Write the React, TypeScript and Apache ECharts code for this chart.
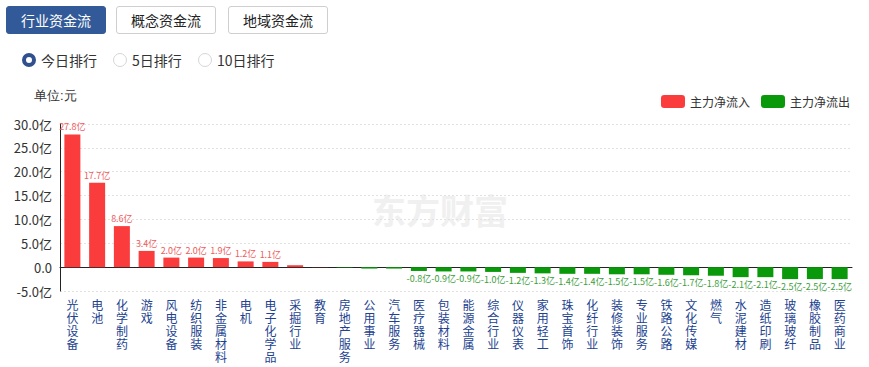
import React, { useEffect, useRef } from "react";
import * as echarts from "echarts";

const categories = [
  "光伏设备", "电池", "化学制药", "游戏", "风电设备", "纺织服装", "非金属材料", "电机",
  "电子化学品", "采掘行业", "教育", "房地产服务", "公用事业", "汽车服务", "医疗器械", "包装材料",
  "能源金属", "综合行业", "仪器仪表", "家用轻工", "珠宝首饰", "化纤行业", "装修装饰", "专业服务",
  "铁路公路", "文化传媒", "燃气", "水泥建材", "造纸印刷", "玻璃玻纤", "橡胶制品", "医药商业",
];
const values = [
  27.8, 17.7, 8.6, 3.4, 2.0, 2.0, 1.9, 1.2,
  1.1, 0.4, 0.03, -0.1, -0.3, -0.3, -0.8, -0.9,
  -0.9, -1.0, -1.2, -1.3, -1.4, -1.4, -1.5, -1.5,
  -1.6, -1.7, -1.8, -2.1, -2.1, -2.5, -2.5, -2.5,
];
const yTicks = { min: -5, max: 30, interval: 5 };
const legendNames = ["主力净流入", "主力净流出"];
const tabs = ["行业资金流", "概念资金流", "地域资金流"];
const radios = ["今日排行", "5日排行", "10日排行"];

const RED = "#fa3c3c";
const GREEN = "#0a990a";
const FONT = "'Noto Sans CJK SC', 'Noto Sans', sans-serif";

function Chart() {
  const ref = useRef<HTMLDivElement>(null);
  useEffect(() => {
    if (!ref.current) return;
    const chart = echarts.init(ref.current, null, { renderer: "svg" });
    const labelFmt = (p: any) => {
      const v = p.value;
      if (v == null || Math.abs(v) < 0.5) return "";
      return v.toFixed(1) + "亿";
    };
    chart.setOption({
      animation: false,
      textStyle: { fontFamily: FONT },
      legend: {
        right: 14,
        top: 90,
        itemWidth: 24,
        itemHeight: 13,
        itemGap: 11,
        icon: "roundRect",
        textStyle: { fontSize: 12, color: "#333", fontFamily: FONT },
        data: legendNames,
      },
      graphic: [
        {
          type: "text",
          left: 34,
          top: 89,
          style: { text: "单位:元", fontSize: 13, fill: "#333", font: `13px ${FONT}` },
        },
        {
          type: "text",
          left: 372,
          top: 192,
          z: -1,
          style: { text: "东方财富", fill: "#f0f0f0", font: `bold 34px ${FONT}` },
        },
      ],
      grid: { left: 60, right: 17, top: 124, bottom: 76, outerBoundsMode: "none", containLabel: false },
      xAxis: {
        type: "category",
        data: categories,
        axisLine: { onZero: true, lineStyle: { color: "#222", width: 1 } },
        axisTick: { show: false },
        axisLabel: {
          interval: 0,
          margin: 7,
          fontSize: 12,
          lineHeight: 13,
          color: "#22428f",
          fontFamily: FONT,
          formatter: (v: string) => v.split("").join("\n"),
        },
      },
      yAxis: {
        type: "value",
        min: yTicks.min,
        max: yTicks.max,
        interval: yTicks.interval,
        axisLine: { show: true, lineStyle: { color: "#222" } },
        axisTick: { show: false },
        splitLine: { lineStyle: { color: "#e2e2e2", type: [2, 2] } },
        axisLabel: {
          fontSize: 13,
          color: "#333",
          margin: 8,
          fontFamily: FONT,
          formatter: (v: number) => (v === 0 ? "0.0" : v.toFixed(1) + "亿"),
        },
      },
      series: [
        {
          name: legendNames[0],
          type: "bar",
          barWidth: 16,
          barGap: "-100%",
          itemStyle: { color: RED },
          data: values.map((v) => (v >= 0 ? v : null)),
          label: {
            show: true,
            position: "top",
            distance: 3,
            fontSize: 9,
            color: "#ee5b5b",
            fontFamily: FONT,
            formatter: labelFmt,
          },
        },
        {
          name: legendNames[1],
          type: "bar",
          barWidth: 16,
          barGap: "-100%",
          itemStyle: { color: GREEN },
          data: values.map((v) => (v < 0 ? v : null)),
          label: {
            show: true,
            position: "bottom",
            distance: 3,
            fontSize: 9,
            color: "#3a9e3a",
            fontFamily: FONT,
            formatter: labelFmt,
          },
        },
      ],
    });
    return () => chart.dispose();
  }, []);
  return <div ref={ref} style={{ position: "absolute", left: 0, top: 0, width: 869, height: 367 }} />;
}

export default function App() {
  const tabLeft = [6, 116, 228];
  const radioX = [22, 113, 198];
  return (
    <div
      style={{
        position: "fixed",
        left: 0,
        top: 0,
        width: 869,
        height: 367,
        background: "#fff",
        fontFamily: FONT,
        overflow: "hidden",
      }}
    >
      <Chart />
      {tabs.map((t, i) => (
        <div
          key={t}
          style={{
            position: "absolute",
            left: tabLeft[i],
            top: 6,
            width: 100,
            height: 28,
            boxSizing: "border-box",
            border: i === 0 ? "1px solid #335a98" : "1px solid #cfcfcf",
            borderRadius: 3,
            background: i === 0 ? "#335a98" : "#fff",
            color: i === 0 ? "#fff" : "#222",
            fontSize: 14,
            lineHeight: "26px",
            textAlign: "center",
          }}
        >
          {t}
        </div>
      ))}
      {radios.map((r, i) => (
        <div
          key={r}
          style={{
            position: "absolute",
            left: radioX[i],
            top: 51,
            height: 18,
            display: "flex",
            alignItems: "center",
            fontSize: 14,
            color: "#333",
          }}
        >
          <span
            style={{
              display: "inline-block",
              boxSizing: "border-box",
              width: 14,
              height: 14,
              borderRadius: "50%",
              border: i === 0 ? "4px solid #30508e" : "1px solid #d6d6d6",
              background: "#fff",
              marginRight: 5,
            }}
          />
          <span>{r}</span>
        </div>
      ))}
    </div>
  );
}
